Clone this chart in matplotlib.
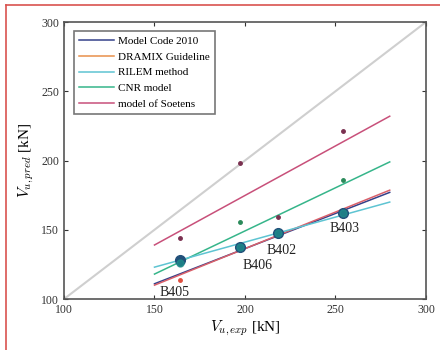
import matplotlib
matplotlib.use("Agg")
import matplotlib.pyplot as plt
from matplotlib.lines import Line2D

plt.rcParams['font.family'] = ['Liberation Serif', 'DejaVu Serif']
plt.rcParams['mathtext.fontset'] = 'cm'

# Data
beams = ["B405", "B406", "B402", "B403"]
v_exp = [164, 197, 218, 254]
mc_pred = [128, 137.5, 147.6, 162]
dramix_pred = [113.7, 137.5, 147.6, 162]
rilem_pred = [126, 137.5, 147.6, 162]
cnr_pred = [125, 155.6, 148, 186]
soetens_pred = [144, 198, 159, 221]

fit_x = [150, 280]
mc_fit = [111, 177]
dramix_fit = [110, 178.6]
rilem_fit = [123, 170]
cnr_fit = [118, 199]
soetens_fit = [139, 232]

label_x = [161, 207, 220.5, 255]
label_y = [105, 124.5, 135, 151]

names = ["Model Code 2010", "DRAMIX Guideline", "RILEM method", "CNR model", "model of Soetens"]
colors = ["#34418a", "#e8904a", "#5ec4d2", "#36b58a", "#c8507a"]
plot_colors = ["#34418a", "#d9606a", "#5ec4d2", "#36b58a", "#c8507a"]

fig = plt.figure(figsize=(4.4, 3.5), dpi=100)
ax = fig.add_axes([0.1455, 0.1457, 0.8225, 0.7913])

ax.plot([100, 300], [100, 300], color="#cfcfcf", lw=1.5, zorder=1)

fits = [mc_fit, dramix_fit, rilem_fit, cnr_fit, soetens_fit]
order = [0, 4, 3, 1, 2]
for i in order:
    ax.plot(fit_x, fits[i], color=plot_colors[i], lw=1.1, zorder=2)

ax.plot(v_exp, soetens_pred, 'o', color="#7a3050", ms=2.5, zorder=3)
ax.plot(v_exp, cnr_pred, 'o', color="#2a8a5a", ms=2.5, zorder=3)
ax.plot(v_exp, dramix_pred, 'o', color="#e05040", ms=2.5, zorder=3)
ax.plot(v_exp, mc_pred, 'o', color="#22507a", ms=7, zorder=4)
ax.plot(v_exp, rilem_pred, 'o', color="#1e8a8a", ms=5, zorder=5, alpha=0.8)

for b, x, y in zip(beams, label_x, label_y):
    ax.text(x, y, b, ha='center', va='center', fontsize=10, color="#222222")

ax.set_xlim(100, 300)
ax.set_ylim(100, 300)
ax.set_xticks([100, 150, 200, 250, 300])
ax.set_yticks([100, 150, 200, 250, 300])
ax.tick_params(direction='in', top=True, right=True, labelsize=8.5, colors="#333333", length=3)
for s in ax.spines.values():
    s.set_color("#555555")
    s.set_linewidth(1.2)

ax.set_xlabel(r"$V_{u,exp}$ [kN]", fontsize=11, labelpad=2)
ax.set_ylabel(r"$V_{u,pred}$ [kN]", fontsize=11, labelpad=4)

handles = [Line2D([0], [0], color=c, lw=1.1) for c in colors]
leg = ax.legend(handles, names, loc='upper left', fontsize=8, frameon=True, fancybox=False,
                handlelength=3.2, handletextpad=0.3, borderpad=0.45, labelspacing=0.55,
                bbox_to_anchor=(0.012, 0.988))
leg.get_frame().set_edgecolor("#555555")
leg.get_frame().set_linewidth(1.2)

# red border frame
fig.add_artist(Line2D([0.013, 0.013], [0, 0.987], transform=fig.transFigure, color="#d9534f", lw=1.2))
fig.add_artist(Line2D([0.013, 1.0], [0.987, 0.987], transform=fig.transFigure, color="#d9534f", lw=1.2))

fig.savefig("out.png", dpi=100)
